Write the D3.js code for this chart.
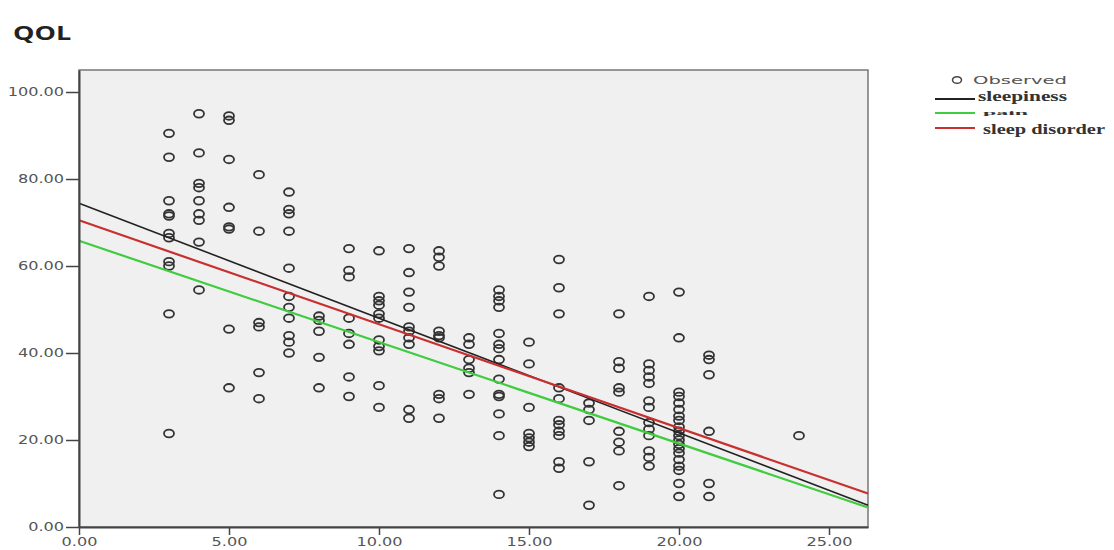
<!DOCTYPE html>
<html>
<head>
<meta charset="utf-8">
<script src="https://cdn.jsdelivr.net/npm/d3@7"></script>
<style>
  body { margin: 0; background: #fff; }
  svg { display: block; }
</style>
</head>
<body>
<div id="chart"></div>
<script>
// Observed QOL values, grouped by score (x)
const scores = [3, 4, 5, 6, 7, 8, 9, 10, 11, 12, 13, 14, 15, 16, 17, 18, 19, 20, 21, 24];
const qol = [
  [90.5, 85, 75, 72, 71.5, 67.5, 66.5, 61, 60, 49, 21.5],
  [95, 86, 79, 78, 75, 72, 70.5, 65.5, 54.5],
  [94.5, 93.5, 84.5, 73.5, 69, 68.5, 45.5, 32],
  [81, 68, 47, 46, 35.5, 29.5],
  [77, 73, 72, 68, 59.5, 53, 50.5, 48, 44, 42.5, 40],
  [48.5, 47.5, 45, 39, 32],
  [64, 59, 57.5, 48, 44.5, 42, 34.5, 30],
  [63.5, 53, 52, 51, 49, 48, 43, 41.5, 40.5, 32.5, 27.5],
  [64, 58.5, 54, 50.5, 46, 45, 43.5, 42, 27, 25],
  [63.5, 62, 60, 45, 44, 43.5, 30.5, 29.5, 25],
  [43.5, 42, 38.5, 36.5, 35.5, 30.5],
  [54.5, 53, 52, 50.5, 44.5, 42, 41, 38.5, 34, 30.5, 30, 26, 21, 7.5],
  [42.5, 37.5, 27.5, 21.5, 20.5, 19.5, 18.5],
  [61.5, 55, 49, 32, 29.5, 24.5, 23.5, 22, 21, 15, 13.5],
  [28.5, 27, 24.5, 15, 5],
  [49, 38, 36.5, 32, 31, 22, 19.5, 17.5, 9.5],
  [53, 37.5, 36, 34.5, 33, 29, 27.5, 24, 22.5, 21, 17.5, 16, 14],
  [54, 43.5, 31, 30, 28.5, 27, 25.5, 24.5, 23, 22, 21, 20, 19, 18, 17, 15.5, 14, 13, 10, 7],
  [39.5, 38.5, 35, 22, 10, 7],
  [21]
];

// Fitted lines (read at the left and right edges of the plot)
const fitNames = ["sleepiness", "pain", "sleep disorder"];
const fitColors = ["#222222", "#3fcc3f", "#c8302f"];
const fitX = [0, 26.3];
const fitStart = [74.4, 65.8, 70.5];
const fitEnd = [5.0, 4.5, 7.7];

const xTicks = [0, 5, 10, 15, 20, 25];
const yTicks = [0, 20, 40, 60, 80, 100];

const width = 1114, height = 550;
const plot = { left: 79, right: 868, top: 70, bottom: 527 };

const svg = d3.select("#chart").append("svg")
  .attr("width", width)
  .attr("height", height);

const x = d3.scaleLinear().domain([0, 26.3]).range([plot.left, plot.right]);
const y = d3.scaleLinear().domain([0, 105.06]).range([plot.bottom, plot.top]);

// horizontal stretch of text, like the scanned original
function stretch(sel, k) {
  sel.each(function() {
    const w = this.getComputedTextLength();
    d3.select(this).attr("textLength", w * k).attr("lengthAdjust", "spacingAndGlyphs");
  });
}

// Title
svg.append("text")
  .attr("x", 13)
  .attr("y", 40)
  .attr("font-family", "Open Sans, sans-serif")
  .attr("font-weight", "bold")
  .attr("font-size", 20)
  .attr("fill", "#222")
  .text("QOL")
  .call(stretch, 1.35);

// Plot background and frame
svg.append("rect")
  .attr("x", plot.left)
  .attr("y", plot.top)
  .attr("width", plot.right - plot.left)
  .attr("height", plot.bottom - plot.top)
  .attr("fill", "#f0f0f0")
  .attr("stroke", "#777")
  .attr("stroke-width", 1.5);

// Points
const points = svg.append("g").attr("class", "points");
scores.forEach((s, i) => {
  qol[i].forEach(v => {
    points.append("ellipse")
      .attr("cx", x(s))
      .attr("cy", y(v))
      .attr("rx", 5)
      .attr("ry", 3.8)
      .attr("fill", "none")
      .attr("stroke", "#333")
      .attr("stroke-width", 1.8);
  });
});

// Fit lines
const lines = svg.append("g").attr("class", "fits");
fitNames.forEach((name, i) => {
  lines.append("line")
    .attr("x1", x(fitX[0]))
    .attr("y1", y(fitStart[i]))
    .attr("x2", x(fitX[1]))
    .attr("y2", y(fitEnd[i]))
    .attr("stroke", fitColors[i])
    .attr("stroke-width", i === 0 ? 1.6 : 2.2);
});

// Axes
const xAxis = svg.append("g")
  .attr("transform", `translate(0,${plot.bottom})`)
  .call(d3.axisBottom(x).tickValues(xTicks).tickFormat(d3.format(".2f")).tickSize(8).tickSizeOuter(0).tickPadding(3));

const yAxis = svg.append("g")
  .attr("transform", `translate(${plot.left},0)`)
  .call(d3.axisLeft(y).tickValues(yTicks).tickFormat(d3.format(".2f")).tickSize(13).tickSizeOuter(0).tickPadding(2));

[xAxis, yAxis].forEach(a => {
  a.select(".domain").attr("stroke", "#444").attr("stroke-width", 2);
  a.selectAll(".tick line").attr("stroke", "#444").attr("stroke-width", 1.5);
  a.selectAll(".tick text")
    .attr("font-family", "DejaVu Sans, sans-serif")
    .attr("font-size", 11.5)
    .attr("fill", "#555")
    .call(stretch, 1.4);
});

// Legend
const legend = svg.append("g").attr("class", "legend");
legend.append("ellipse")
  .attr("cx", 957).attr("cy", 80)
  .attr("rx", 4.5).attr("ry", 3.3)
  .attr("fill", "none").attr("stroke", "#444").attr("stroke-width", 1.5);
legend.append("text")
  .attr("x", 973).attr("y", 84)
  .attr("font-family", "DejaVu Sans, sans-serif")
  .attr("font-size", 11)
  .attr("fill", "#555")
  .attr("textLength", 94)
  .attr("lengthAdjust", "spacingAndGlyphs")
  .text("Observed");

const legendY = [99, 113, 128];
const legendTextY = [101, 115, 134];
const legendSize = [14, 7, 14];
const legendTextX = [978, 983, 983];
const legendTextW = [89, 45, 122];
fitNames.forEach((name, i) => {
  legend.append("line")
    .attr("x1", 935).attr("x2", 975)
    .attr("y1", legendY[i]).attr("y2", legendY[i])
    .attr("stroke", fitColors[i])
    .attr("stroke-width", 1.8);
  legend.append("text")
    .attr("x", legendTextX[i])
    .attr("y", legendTextY[i])
    .attr("font-family", "Liberation Serif, serif")
    .attr("font-weight", "bold")
    .attr("font-size", legendSize[i])
    .attr("fill", "#333")
    .attr("textLength", legendTextW[i])
    .attr("lengthAdjust", "spacingAndGlyphs")
    .text(name);
});
</script>
</body>
</html>
